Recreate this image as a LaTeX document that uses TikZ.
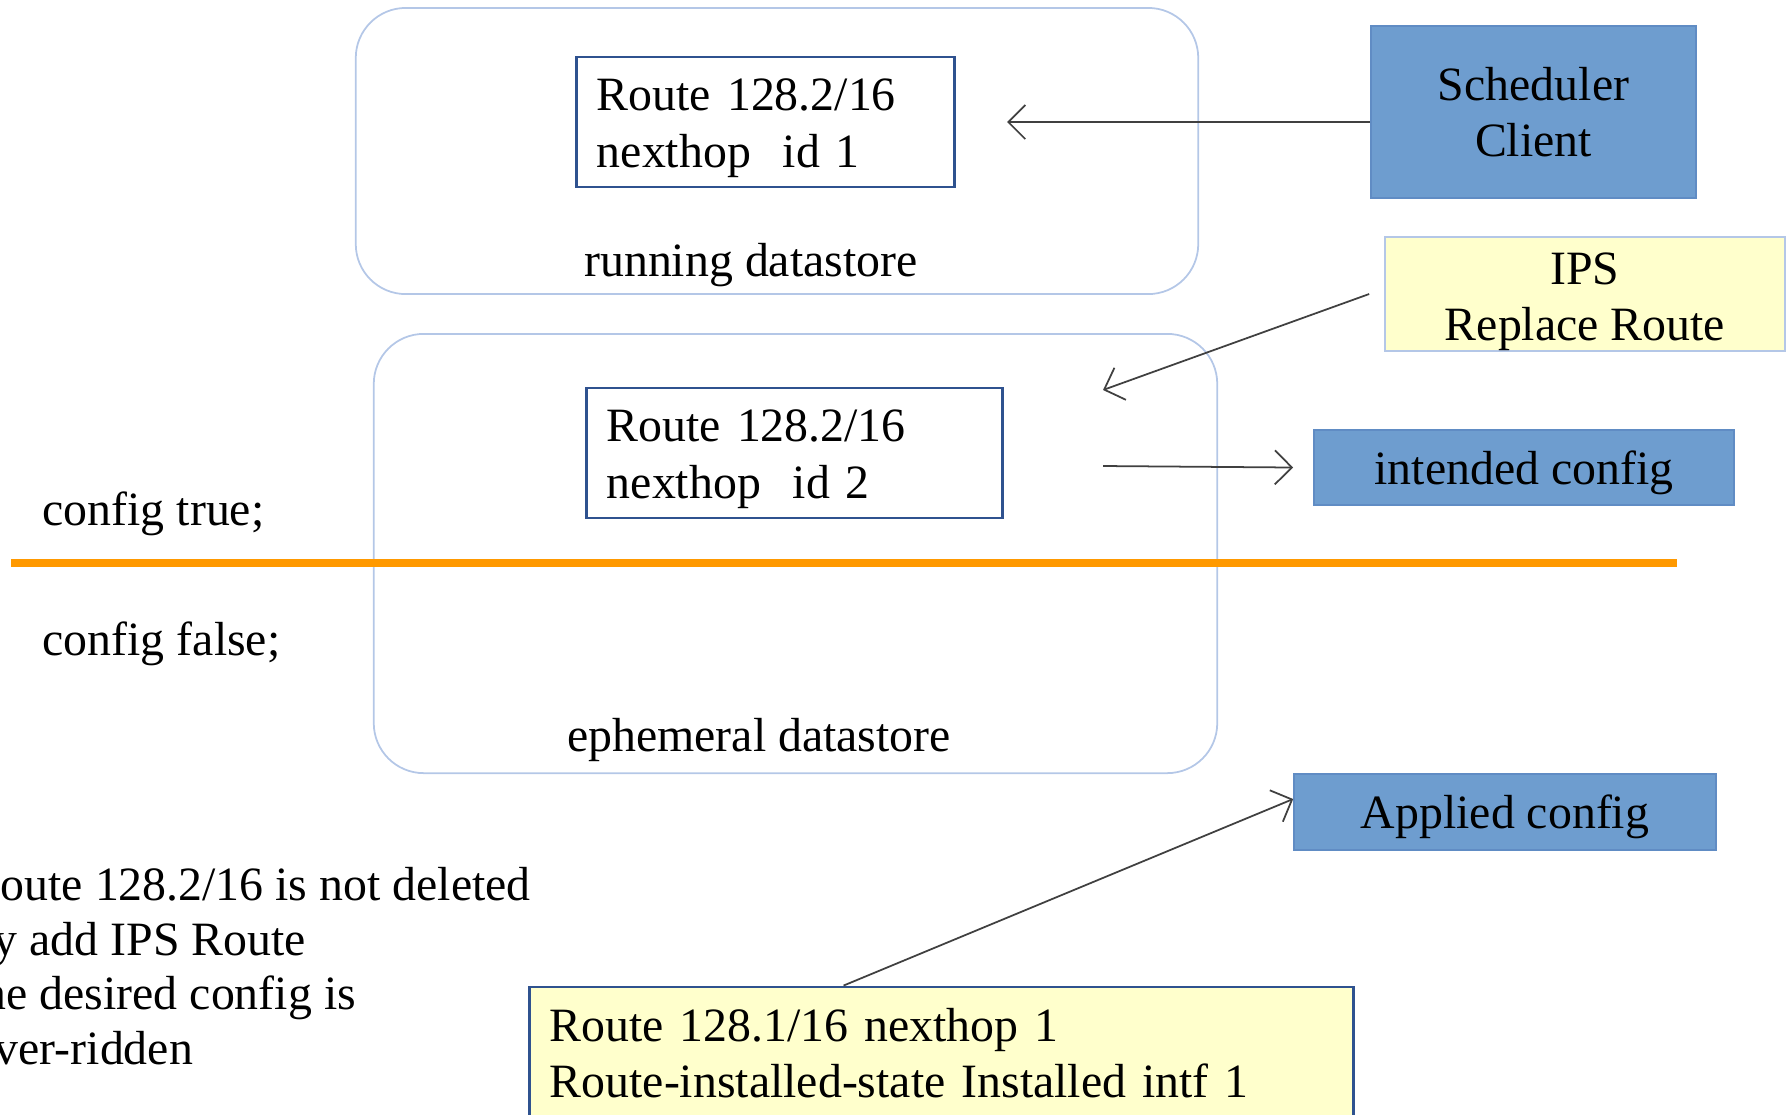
\documentclass[tikz,border=0pt]{standalone}
\usepackage{fontspec}
\setmainfont{Liberation Serif}
\usetikzlibrary{arrows.meta}

\definecolor{cfgblue}{RGB}{110,157,207}
\definecolor{cfgedge}{RGB}{96,140,196}
\definecolor{notecream}{RGB}{255,255,204}
\definecolor{routeedge}{RGB}{47,82,143}
\definecolor{storeedge}{RGB}{180,199,231}
\definecolor{splitorange}{RGB}{255,153,0}

\begin{document}
\begin{tikzpicture}[
    x=0.01cm, y=-0.01cm,
    every node/.style={font=\fontsize{13.6pt}{16pt}\selectfont},
    store/.style={
        rectangle,
        draw=storeedge,
        rounded corners=0.5cm,
        line width=0.5pt
    },
    route/.style={
        rectangle,
        draw=routeedge,
        line width=0.8pt,
        fill=white,
        align=left,
        inner xsep=0.2cm,
        text depth=15.4pt,
        minimum height=1.3cm
    },
    cfgbox/.style={
        rectangle,
        draw=cfgedge,
        fill=cfgblue,
        align=center,
        text depth=0pt
    },
    memo/.style={
        rectangle,
        fill=notecream,
        align=center
    },
    arrow/.style={
        -{Straight Barb[length=1.7mm,width=3.4mm]},
        line width=0.5pt,
        draw=black!75
    }
]

\clip (0,0) rectangle (1788,1114);

\node[store, minimum width=8.42cm, minimum height=2.86cm] (run) at (777,151) {};
\node (runlbl) at (751,265) {running datastore};
\node[store, minimum width=8.43cm, minimum height=4.39cm] (eph) at (795.5,553.5) {};
\node (ephlbl) at (759,740) {ephemeral datastore};

\draw[splitorange, line width=0.08cm] (11,563) -- (1677,563);

\node[route, text width=3.37cm] (route1) at (765.5,122)
{Route 128.2/16\\
nexthop\ \ id 1};

\node[route, text width=3.75cm] (route2) at (794.5,453)
{Route 128.2/16\\
nexthop\ \ id 2};

\node[cfgbox, minimum width=3.25cm, minimum height=1.72cm] (sched) at (1533.5,112)
{Scheduler\\
Client};

\node[memo, draw=storeedge, inner ysep=0pt, text height=26.6pt, text depth=0pt,
      minimum width=4cm, minimum height=1.14cm] (ips) at (1585,294)
{IPS\\
Replace Route};

\node[cfgbox, minimum width=4.2cm, minimum height=0.75cm] (intended) at (1524,467.5)
{intended config};

\node[cfgbox, minimum width=4.22cm, minimum height=0.76cm] (applied) at (1505,812)
{Applied config};

\node[memo, draw=routeedge, line width=0.8pt, align=left, text width=7.83cm,
      inner xsep=0.2cm, minimum height=1.32cm] (installed) at (941.5,1053)
{Route 128.1/16 nexthop 1\\
Route-installed-state Installed intf 1};

\node[anchor=base west, inner sep=0pt] (cfgtrue) at (42,525) {config true;};
\node[anchor=base west, inner sep=0pt] (cfgfalse) at (42,655) {config false;};

\node[anchor=north west, align=left, inner sep=0pt,
      font=\fontsize{13.6pt}{15.5pt}\selectfont] (note) at (0,867)
{oute 128.2/16 is not deleted\\
\hspace*{-0.07cm}y add IPS Route\\
\hspace*{-0.18cm}ne desired config is\\
\hspace*{-0.06cm}ver-ridden};

\coordinate (schedtip) at (1007,122);
\coordinate (ipstip) at (1103,390);
\coordinate (intendtail) at (1103,466);

\draw[arrow] (sched.west |- schedtip) -- (schedtip);
\draw[arrow] ([xshift=-0.15cm]ips.west) -- (ipstip);
\draw[arrow] (intendtail) -- ([xshift=-0.2cm]intended.west);
\draw[arrow] ([xshift=3.15cm]installed.north west) -- ([yshift=0.13cm]applied.west);

\end{tikzpicture}
\end{document}
